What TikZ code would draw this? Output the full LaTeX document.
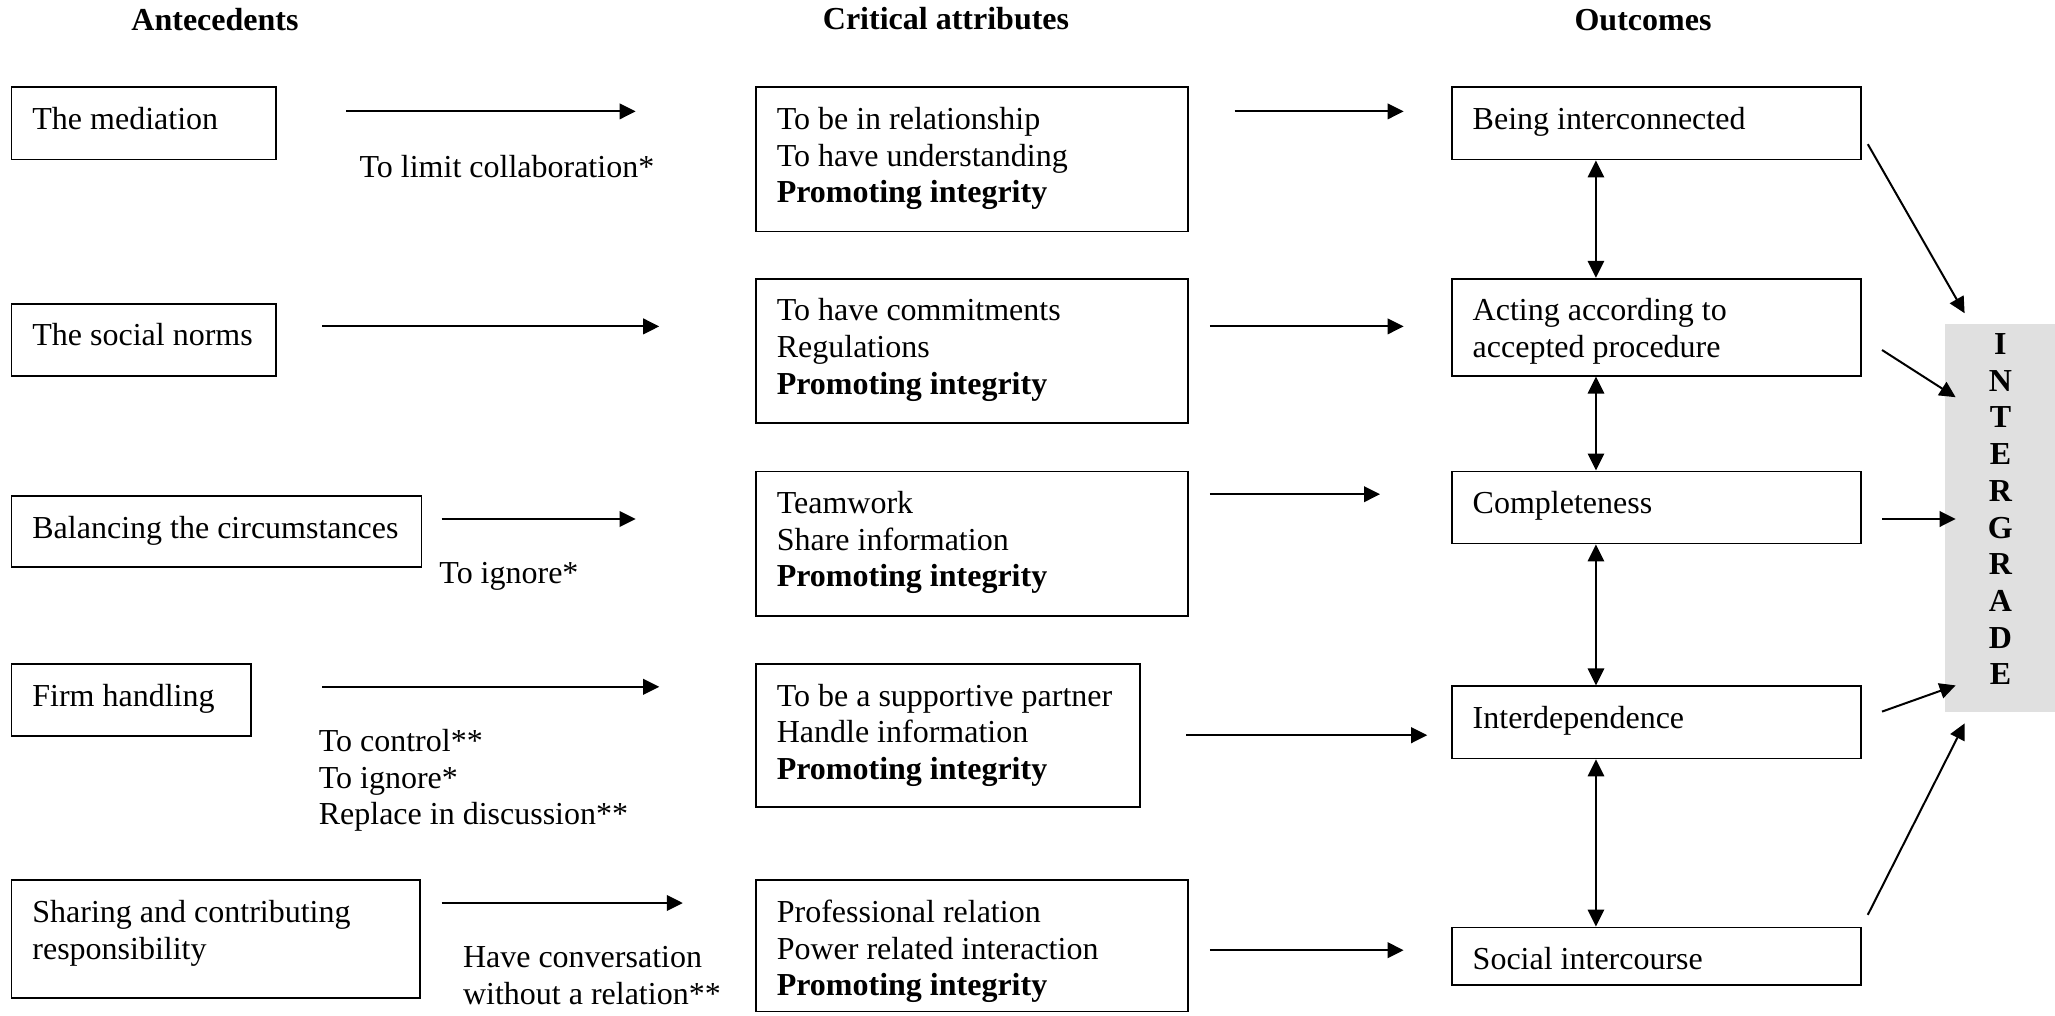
\documentclass[tikz,border=0pt]{standalone}
\usepackage{fontspec}
\setmainfont{Liberation Serif}
\usetikzlibrary{arrows.meta,positioning,calc}
\newcommand{\betumeret}{\fontsize{16pt}{18.35pt}\selectfont}
\tikzset{
  doboz/.style={draw,line width=0.9pt,anchor=north west,inner xsep=10.5pt,inner ysep=0pt,
    align=flush left,text height=21pt},
  nyil/.style={line width=1pt,-{Triangle[length=8pt,width=7.8pt]}},
  ketnyil/.style={line width=1pt,{Triangle[length=8.5pt,width=8.2pt]}-{Triangle[length=8.5pt,width=8.2pt]}},
  felirat/.style={anchor=north west,inner sep=0pt,align=flush left,text width=170pt,text height=0pt},
  fej/.style={anchor=base,font=\betumeret\bfseries},
}
\begin{document}
\begin{tikzpicture}[x=1pt,y=-1pt,font=\betumeret]
  \useasboundingbox (0,0) rectangle (1027.5,508);
  % fejlecek
  \node[fej] (hA) at (107.5,15.5) {Antecedents};
  \node[fej] (hK) at (473,15) {Critical attributes};
  \node[fej] (hE) at (821.5,15.5) {Outcomes};
  % elozmenyek
  \node[doboz,text width=111.25pt,text depth=15.05pt] (A1) at (5.25,43.25) {The mediation};
  \node[doboz,text width=111.25pt,text depth=15.05pt] (A2) at (5.25,151.35) {The social norms};
  \node[doboz,text width=184pt,text depth=14.4pt] (A3) at (5.25,247.7) {Balancing the circumstances};
  \node[doboz,text width=98.9pt,text depth=15pt] (A4) at (5.25,331.6) {Firm handling};
  \node[doboz,text width=183.45pt,text depth=38pt] (A5) at (5.25,439.7)
    {Sharing and contributing\\ responsibility};
  % kritikus jellemzok
  \node[doboz,text width=195.25pt,text depth=51.1pt] (K1) at (377.45,43.25)
    {To be in relationship\\ To have understanding\\ \textbf{Promoting integrity}};
  \node[doboz,text width=195.25pt,text depth=51.1pt] (K2) at (377.45,138.9)
    {To have commitments\\ Regulations\\ \textbf{Promoting integrity}};
  \node[doboz,text width=195.25pt,text depth=51.1pt] (K3) at (377.45,235.25)
    {Teamwork\\ Share information\\ \textbf{Promoting integrity}};
  \node[doboz,text width=170.95pt,text depth=50.4pt] (K4) at (377.45,331.6)
    {To be a supportive partner\\ Handle information\\ \textbf{Promoting integrity}};
  \node[doboz,text width=195.25pt,text depth=44.55pt] (K5) at (377.45,439.7)
    {Professional relation\\ Power related interaction\\ \textbf{Promoting integrity}};
  % eredmenyek
  \node[doboz,text width=183.45pt,text depth=15.05pt] (E1) at (725.4,43.25) {Being interconnected};
  \node[doboz,text width=183.45pt,text depth=27.5pt] (E2) at (725.4,138.9)
    {Acting according to\\ accepted procedure};
  \node[doboz,text width=183.45pt,text depth=15.05pt] (E3) at (725.4,235.25) {Completeness};
  \node[doboz,text width=183.45pt,text depth=15.05pt] (E4) at (725.4,342.7) {Interdependence};
  \node[doboz,text width=183.45pt,text depth=7.85pt] (E5) at (725.4,463.3) {Social intercourse};
  \node[anchor=north west,fill=black!12,inner sep=0pt,text width=55pt,align=center,
    text height=15.2pt,text depth=178.8pt,font=\betumeret\bfseries] (I) at (972.5,161.85)
    {I\\ N\\ T\\ E\\ R\\ G\\ R\\ A\\ D\\ E};
  % feliratok
  \node[felirat] (L1) at (179.6,87.9) {To limit collaboration*};
  \node[felirat] (L3) at (219.5,291.7) {To ignore*};
  \node[felirat] (L4) at (159.2,375.5) {To control**\\ To ignore*\\ Replace in discussion**};
  \node[felirat] (L5) at (231.3,483.7) {Have conversation\\ without a relation**};
  % nyilak vegpontjai
  \coordinate (la1) at (173,55.7);   \coordinate (lb1) at (317.8,55.7);
  \coordinate (la2) at (161.2,163.2); \coordinate (lb2) at (329.6,163.2);
  \coordinate (la3) at (220.8,259.5); \coordinate (lb3) at (317.8,259.5);
  \coordinate (la4) at (161.2,343.4); \coordinate (lb4) at (329.6,343.4);
  \coordinate (la5) at (220.8,451.5); \coordinate (lb5) at (341.4,451.5);
  \coordinate (ra1) at (617.3,55.7);  \coordinate (rb1) at (701.8,55.7);
  \coordinate (ra2) at (604.9,163.2); \coordinate (rb2) at (701.8,163.2);
  \coordinate (ra3) at (604.9,247.1); \coordinate (rb3) at (690,247.1);
  \coordinate (ra4) at (593,367.6);   \coordinate (rb4) at (713.6,367.6);
  \coordinate (ra5) at (604.9,475.1); \coordinate (rb5) at (701.8,475.1);
  \coordinate (ia1) at (933.9,72.1);  \coordinate (ib1) at (982.3,156.6);
  \coordinate (ia2) at (941,175);     \coordinate (ib2) at (977.8,198.6);
  \coordinate (ia3) at (941,259.5);   \coordinate (ib3) at (977.8,259.5);
  \coordinate (ia4) at (941,355.8);   \coordinate (ib4) at (977.8,342.7);
  \coordinate (ia5) at (933.9,457.4); \coordinate (ib5) at (982.3,361.7);
  \draw[nyil] (la1) -- (lb1); \draw[nyil] (la2) -- (lb2); \draw[nyil] (la3) -- (lb3);
  \draw[nyil] (la4) -- (lb4); \draw[nyil] (la5) -- (lb5);
  \draw[nyil] (ra1) -- (rb1); \draw[nyil] (ra2) -- (rb2); \draw[nyil] (ra3) -- (rb3);
  \draw[nyil] (ra4) -- (rb4); \draw[nyil] (ra5) -- (rb5);
  \draw[nyil] (ia1) -- (ib1); \draw[nyil] (ia2) -- (ib2); \draw[nyil] (ia3) -- (ib3);
  \draw[nyil] (ia4) -- (ib4); \draw[nyil] (ia5) -- (ib5);
  % kettos nyilak
  \draw[ketnyil] ([xshift=-30.1pt]E1.south) -- ([xshift=-30.1pt]E2.north);
  \draw[ketnyil] ([xshift=-30.1pt]E2.south) -- ([xshift=-30.1pt]E3.north);
  \draw[ketnyil] ([xshift=-30.1pt]E3.south) -- ([xshift=-30.1pt]E4.north);
  \draw[ketnyil] ([xshift=-30.1pt]E4.south) -- ([xshift=-30.1pt]E5.north);
\end{tikzpicture}
\end{document}
